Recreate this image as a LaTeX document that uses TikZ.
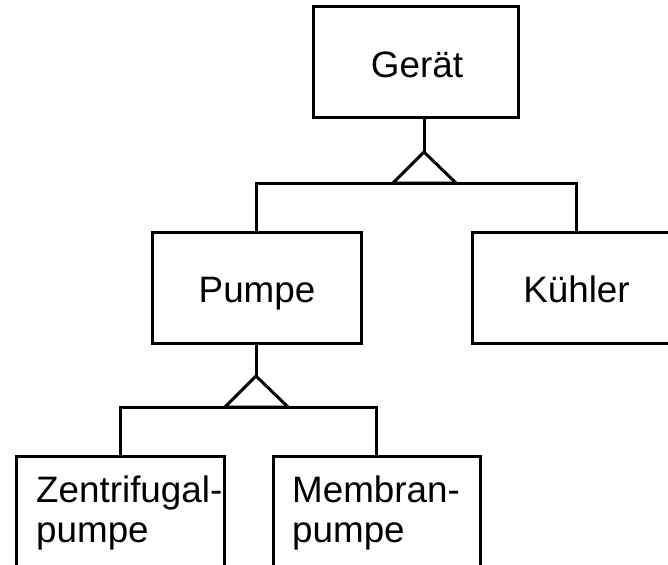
\documentclass[tikz,border=0pt]{standalone}
\usepackage{fontspec}
\setmainfont{Liberation Sans}
\begin{document}
\begin{tikzpicture}[x=1pt,y=-1pt,
  box/.style={draw=black, line width=3pt, rectangle, inner sep=0pt},
  lbl/.style={inner sep=0pt, font=\fontsize{36.8}{39.5}\selectfont},
  wire/.style={draw=black, line width=3pt}]
  \useasboundingbox (0,0) rectangle (668,564);
  \clip (0,0) rectangle (668,564);
  \fill[white] (0,0) rectangle (668,564);

  % boxes
  \node[box, minimum width=205, minimum height=111] (geraet)  at (415.5,62.5) {};
  \node[box, minimum width=209, minimum height=111] (pumpe)   at (256.5,287.5) {};
  \node[box, minimum width=208, minimum height=111] (kuehler) at (576,287.5) {};
  \node[box, minimum width=208, minimum height=170] (zentri)  at (120,541) {};
  \node[box, minimum width=207, minimum height=170] (membran) at (376.5,541) {};

  % labels (multi-line labels are anchored at the baseline of their last line)
  \node[lbl, anchor=base] (geraetT)  at (417,78)  {Gerät};
  \node[lbl, anchor=base] (pumpeT)   at (257,302) {Pumpe};
  \node[lbl, anchor=base] (kuehlerT) at (576.5,302) {Kühler};
  \node[lbl, anchor=base west, align=left] (zentriT)  at (36,542)  {Zentrifugal-\\pumpe};
  \node[lbl, anchor=base west, align=left] (membranT) at (292,542) {Membran-\\pumpe};

  % generalisation triangles
  \coordinate (apexA) at (424,152);
  \coordinate (baseAl) at (393,183);
  \coordinate (baseAr) at (456,183);
  \coordinate (apexB) at (256,376);
  \coordinate (baseBl) at (225,407);
  \coordinate (baseBr) at (288,407);

  % Gerät -> Pumpe, Kühler
  \draw[wire] (geraet.south -| apexA) -- (apexA);
  \draw[wire, line join=miter] (apexA) -- (baseAl) -- (baseAr) -- cycle;
  \draw[wire, line join=miter] (pumpe.north) -- (pumpe.north |- baseAl) -- (kuehler.north |- baseAl) -- (kuehler.north);

  % Pumpe -> Zentrifugalpumpe, Membranpumpe
  \draw[wire] (pumpe.south -| apexB) -- (apexB);
  \draw[wire, line join=miter] (apexB) -- (baseBl) -- (baseBr) -- cycle;
  \draw[wire, line join=miter] (zentri.north) -- (zentri.north |- baseBl) -- (membran.north |- baseBl) -- (membran.north);
\end{tikzpicture}
\end{document}
